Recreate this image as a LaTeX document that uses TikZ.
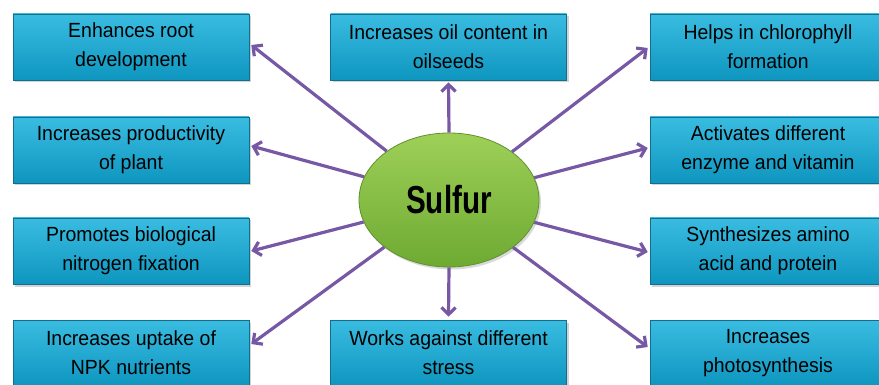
\documentclass[tikz,border=0pt]{standalone}
\usepackage{fontspec}
\setmainfont{Liberation Sans}
\newfontfamily\boxfont{Liberation Sans}[FakeStretch=0.95]
\newfontfamily\sulfont{Liberation Sans}[FakeStretch=0.76]
\usetikzlibrary{arrows.meta,shadows,shapes.geometric}
\definecolor{boxtop}{RGB}{58,188,225}
\definecolor{boxbot}{RGB}{14,150,192}
\definecolor{boxline}{RGB}{18,110,140}
\definecolor{gtop}{RGB}{158,208,88}
\definecolor{gbot}{RGB}{110,170,50}
\definecolor{gline}{RGB}{95,145,45}
\definecolor{arr}{RGB}{118,88,165}
\tikzset{
  infobox/.style={rectangle, draw=boxline, line width=0.6pt,
    top color=boxtop, bottom color=boxbot,
    minimum width=236pt, minimum height=66pt, inner sep=0pt,
    align=center, text=black,
    font=\boxfont\fontsize{20.5}{29}\selectfont,
    drop shadow={opacity=0.35, shadow xshift=2pt, shadow yshift=-2.5pt}},
  hub/.style={ellipse, draw=gline, line width=0.8pt,
    top color=gtop, bottom color=gbot,
    minimum width=180pt, minimum height=134pt, inner sep=0pt,
    font=\sulfont\bfseries\fontsize{39}{40}\selectfont, text=black,
    drop shadow={opacity=0.3, shadow xshift=2pt, shadow yshift=-2.5pt}},
  link/.style={draw=arr, line width=3.2pt, -{Straight Barb[length=7pt,width=14pt]}}
}
\begin{document}
\begin{tikzpicture}[x=1pt,y=-1pt]
\useasboundingbox (0,0) rectangle (879,385);
\node[hub] (s) at (449,200) {Sulfur};
\node[infobox] (l1) at (131,47) {Enhances root\\development};
\node[infobox] (l2) at (131,150) {Increases productivity\\of plant};
\node[infobox] (l3) at (131,251) {Promotes biological\\nitrogen fixation};
\node[infobox] (l4) at (131,353) {Increases uptake of\\NPK nutrients};
\node[infobox] (m1) at (448.5,47) {Increases oil content in\\oilseeds};
\node[infobox] (m4) at (448.5,353) {Works against different\\stress};
\node[infobox] (r1) at (768,47) {Helps in chlorophyll\\formation};
\node[infobox] (r2) at (768,150) {Activates different\\enzyme and vitamin};
\node[infobox] (r3) at (768,251) {Synthesizes amino\\acid and protein};
\node[infobox] (r4) at (768,353) {Increases\\photosynthesis};
\draw[link] (s) -- ([xshift=2pt,yshift=2pt]l1.east);
\draw[link] (s) -- ([xshift=2pt,yshift=4pt]l2.east);
\draw[link] (s) -- ([xshift=2pt]l3.east);
\draw[link] (s) -- ([xshift=2pt,yshift=9pt]l4.east);
\draw[link] (s) -- ([xshift=-2pt,yshift=-1pt]r1.west);
\draw[link] (s) -- ([xshift=-2pt,yshift=2pt]r2.west);
\draw[link] (s) -- ([xshift=-2pt,yshift=-1pt]r3.west);
\draw[link] (s) -- ([xshift=-2pt,yshift=6pt]r4.west);
\draw[link] (s.north) -- ([yshift=-2pt]m1.south);
\draw[link] (s.south) -- ([yshift=3pt]m4.north);
\end{tikzpicture}
\end{document}
